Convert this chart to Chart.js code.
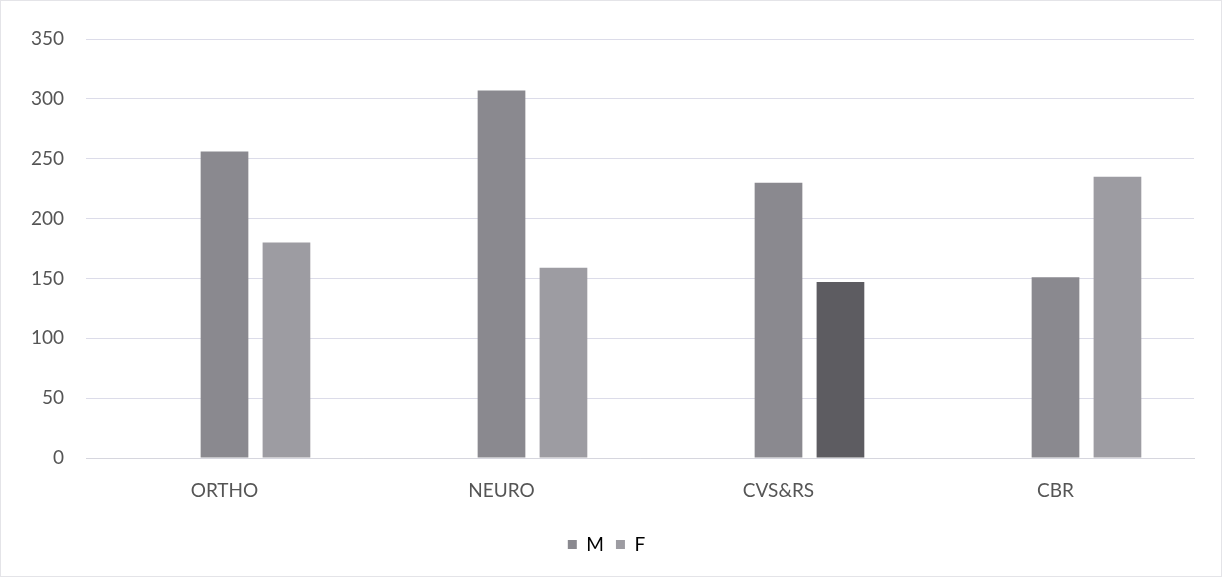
<!DOCTYPE html>
<html>
<head>
<meta charset="utf-8">
<script src="https://cdn.jsdelivr.net/npm/chart.js@4/dist/chart.umd.min.js"></script>
<style>
  html, body { margin: 0; padding: 0; background: #fff; }
  #wrap { position: relative; width: 1222px; height: 577px; box-sizing: border-box; border: 1px solid #e4e4e8; }
  canvas { display: block; }
</style>
</head>
<body>
<div id="wrap"><canvas id="chart" width="1220" height="575"></canvas></div>
<script>
// 데이터
const categories = ["ORTHO", "NEURO", "CVS&RS", "CBR"];
const maleValues = [256, 307, 230, 151];
const femaleValues = [180, 159, 147, 235];
const yTicks = [0, 50, 100, 150, 200, 250, 300, 350];

// 색상
const maleColor = "#8a898f";
const femaleColors = ["#9d9ca2", "#9d9ca2", "#5d5c61", "#9d9ca2"];
const labelFont = { family: "Lato", size: 19 };

const ctx = document.getElementById("chart").getContext("2d");
const chart = new Chart(ctx, {
  type: "bar",
  data: {
    labels: categories,
    datasets: [
      {
        label: "",
        data: categories.map(() => null), // 빈 시리즈 (엑셀 원본 자리 맞춤)
        backgroundColor: "rgba(0,0,0,0)",
      },
      {
        label: "M",
        data: maleValues,
        backgroundColor: maleColor,
      },
      {
        label: "F",
        data: femaleValues,
        backgroundColor: femaleColors,
      },
    ],
  },
  options: {
    responsive: false,
    animation: false,
    devicePixelRatio: 1,
    layout: { padding: { top: 38, left: 18, right: 27, bottom: 12 } },
    datasets: {
      bar: { categoryPercentage: 0.671, barPercentage: 0.77 },
    },
    plugins: {
      tooltip: { enabled: false },
      legend: {
        position: "bottom",
        labels: {
          filter: (item) => item.text !== "",
          boxWidth: 9,
          boxHeight: 9,
          padding: 12,
          color: "#555",
          font: labelFont,
          generateLabels: (c) =>
            c.data.datasets.map((ds, i) => ({
              text: ds.label,
              fillStyle: i === 1 ? maleColor : "#9d9ca2",
              strokeStyle: "rgba(0,0,0,0)",
              lineWidth: 0,
              datasetIndex: i,
            })),
        },
      },
    },
    scales: {
      x: {
        grid: { display: false },
        border: { color: "#d6d6de", width: 1 },
        afterFit: (axis) => {
          axis.height = 65;
        },
        ticks: {
          color: "#555",
          padding: 13,
          maxRotation: 0,
          font: labelFont,
        },
      },
      y: {
        min: 0,
        max: 350,
        afterBuildTicks: (axis) => {
          axis.ticks = yTicks.map((v) => ({ value: v }));
        },
        afterFit: (axis) => {
          axis.width = 67;
        },
        grid: { color: "#dcdce9", drawTicks: false },
        border: { display: false },
        ticks: {
          color: "#555",
          padding: 22,
          font: labelFont,
        },
      },
    },
  },
});
</script>
</body>
</html>
